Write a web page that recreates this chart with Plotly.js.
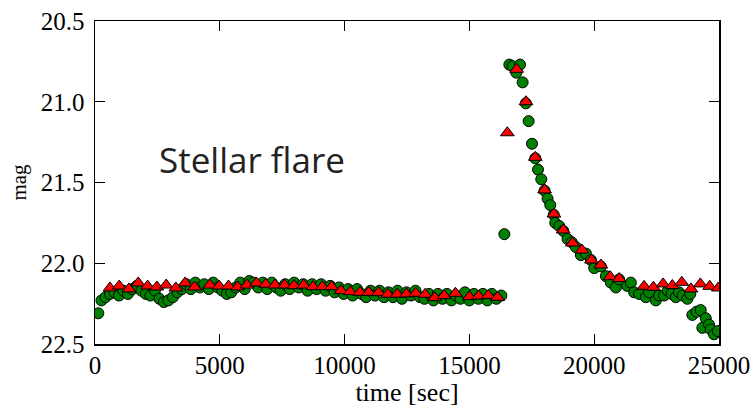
<!DOCTYPE html>
<html>
<head>
<meta charset="utf-8">
<script src="https://cdn.plot.ly/plotly-3.0.1.min.js"></script>
<style>html,body{margin:0;padding:0;background:#fff;}#chart{width:754px;height:413px;}</style>
</head>
<body>
<div id="chart"></div>
<script>
// Green circles: time [sec] and mag
var circleTime = [133,260,420,600,780,960,1140,1320,1500,1680,1860,2040,2220,2400,2580,2760,2940,3120,3300,3480,3660,3840,4020,4200,4380,4560,4740,4920,5100,5280,5460,5640,5820,6000,6180,6360,6540,6720,6900,7080,7260,7440,7620,7800,7980,8160,8340,8520,8700,8880,9060,9240,9420,9600,9780,9960,10140,10320,10500,10680,10860,11040,11220,11400,11580,11760,11940,12120,12300,12480,12660,12840,13020,13200,13380,13560,13740,13920,14100,14280,14460,14640,14820,15000,15180,15360,15540,15720,15900,16080,16280,16400,16600,16732,16880,17028,17132,17260,17372,17508,17640,17748,17880,18010,18132,18240,18380,18440,18600,18760,18932,19100,19268,19468,19668,19868,20000,20268,20468,20668,20868,21000,21320,21468,21600,21800,22068,22200,22468,22600,22800,22950,23100,23268,23400,23550,23732,23850,23932,24100,24268,24332,24468,24600,24668,24800,24950];
var circleMag = [22.31,22.23,22.21,22.19,22.18,22.20,22.17,22.19,22.16,22.14,22.17,22.19,22.20,22.17,22.22,22.24,22.23,22.21,22.18,22.16,22.13,22.16,22.12,22.15,22.13,22.16,22.12,22.15,22.17,22.19,22.18,22.15,22.12,22.16,22.11,22.12,22.15,22.12,22.16,22.12,22.15,22.17,22.13,22.16,22.12,22.15,22.13,22.17,22.13,22.16,22.13,22.17,22.14,22.18,22.15,22.19,22.16,22.20,22.16,22.19,22.21,22.17,22.20,22.17,22.21,22.18,22.21,22.17,22.22,22.18,22.20,22.17,22.21,22.22,22.19,22.23,22.19,22.22,22.19,22.23,22.20,22.22,22.18,22.23,22.19,22.22,22.19,22.23,22.19,22.22,22.20,21.82,20.77,20.78,20.82,20.77,20.88,21.01,21.12,21.26,21.35,21.42,21.48,21.55,21.60,21.64,21.70,21.75,21.77,21.80,21.85,21.87,21.90,21.95,21.94,21.98,22.03,22.02,22.08,22.12,22.15,22.10,22.14,22.12,22.18,22.19,22.21,22.18,22.23,22.20,22.20,22.17,22.19,22.21,22.18,22.20,22.22,22.19,22.32,22.30,22.29,22.40,22.34,22.38,22.41,22.44,22.42];

// Red triangles: time [sec] and mag
var triTime = [600,972,1360,1732,2108,2480,2852,3240,3612,3988,4600,4972,5348,5720,6092,6468,6840,7212,7600,7972,8360,8732,9108,9480,9852,10228,10612,10972,11360,11732,12108,12480,12852,13228,13612,13988,14440,15000,15372,15760,16132,16520,16892,17268,17640,18012,18388,18760,19132,19508,19892,20268,20640,21000,22000,22372,22760,23132,23508,23880,24252,24628,24972];
var triMag = [22.153,22.141,22.159,22.122,22.141,22.147,22.135,22.153,22.122,22.147,22.135,22.141,22.141,22.147,22.135,22.122,22.130,22.135,22.135,22.139,22.135,22.145,22.145,22.145,22.170,22.176,22.180,22.180,22.182,22.192,22.192,22.190,22.186,22.192,22.213,22.200,22.186,22.207,22.203,22.199,22.211,21.192,20.799,21.000,21.344,21.546,21.695,21.794,21.875,21.918,21.980,22.011,22.083,22.095,22.143,22.149,22.128,22.138,22.118,22.159,22.128,22.143,22.153];

var xTicks = [0,5000,10000,15000,20000,25000];
var yTicks = [20.5,21.0,21.5,22.0,22.5];
var xTickText = ['0','5000','10000','15000','20000','25000'];
var yTickText = ['20.5','21.0','21.5','22.0','22.5'];

var serif = 'Liberation Serif';

var traces = [
  {x: circleTime, y: circleMag, type: 'scatter', mode: 'markers', cliponaxis: true,
   marker: {symbol: 'circle', size: 11, color: '#008000', line: {color: '#000', width: 1}}},
  {x: triTime, y: triMag, type: 'scatter', mode: 'markers', cliponaxis: true,
   marker: {symbol: 'triangle-up', size: 12, color: '#ff0000', line: {color: '#000', width: 1}}}
];

var layout = {
  width: 754, height: 413,
  margin: {l: 95, r: 35, t: 21, b: 69},
  paper_bgcolor: '#fff', plot_bgcolor: '#fff',
  showlegend: false,
  font: {family: serif, color: '#000', size: 25},
  xaxis: {
    range: [0, 25000], tickvals: xTicks, ticktext: xTickText,
    ticks: 'inside', ticklen: 10, tickwidth: 1.2, tickcolor: '#000',
    showline: true, linecolor: '#000', linewidth: 1.5, mirror: 'ticks',
    showgrid: false, zeroline: false,
    tickfont: {family: serif, size: 25, color: '#000'},
    ticklabelstandoff: -2,
    title: {text: 'time [sec]', font: {family: serif, size: 26, color: '#000'}, standoff: 2}
  },
  yaxis: {
    range: [22.5, 20.5], tickvals: yTicks, ticktext: yTickText,
    ticks: 'inside', ticklen: 10, tickwidth: 1.2, tickcolor: '#000',
    showline: true, linecolor: '#000', linewidth: 1.5, mirror: 'ticks',
    showgrid: false, zeroline: false,
    tickfont: {family: serif, size: 25, color: '#000'},
    ticklabelstandoff: 4,
    title: {text: 'mag', font: {family: serif, size: 21, color: '#000'}, standoff: 8}
  },
  annotations: [
    {text: 'Stellar flare', xref: 'paper', yref: 'paper', x: 0.1, y: 0.57,
     xanchor: 'left', yanchor: 'middle', showarrow: false,
     font: {family: 'Open Sans', size: 35, color: '#222'}}
  ]
};

Plotly.newPlot('chart', traces, layout, {staticPlot: true, displayModeBar: false});
</script>
</body>
</html>
